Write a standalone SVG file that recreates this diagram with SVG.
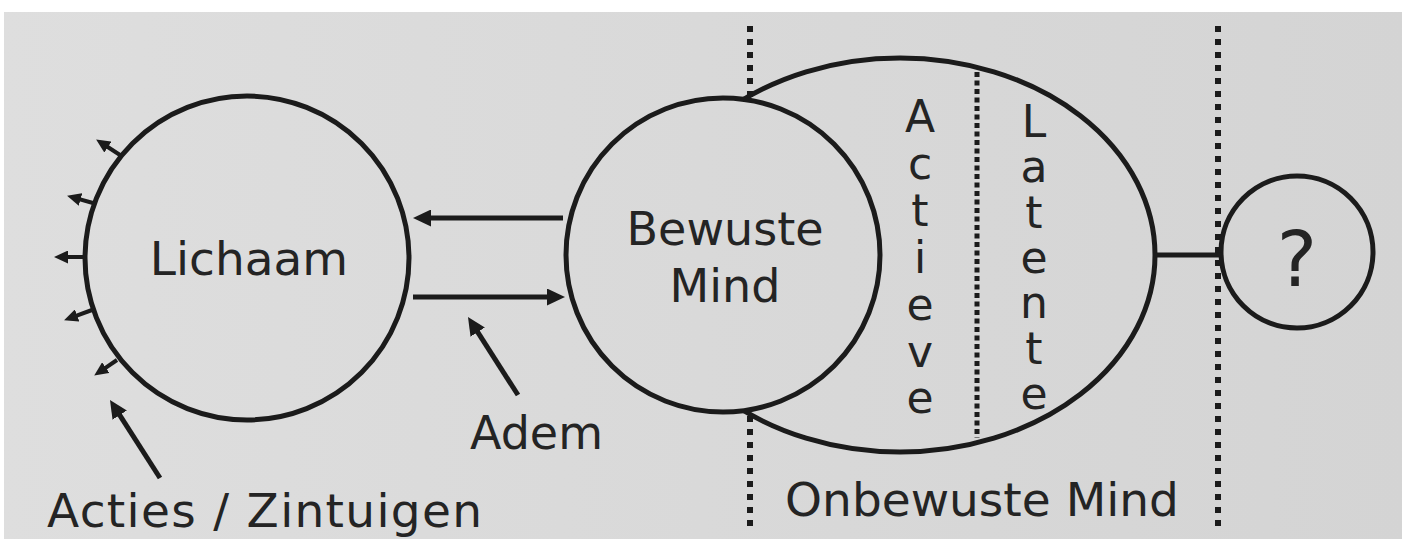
<svg xmlns="http://www.w3.org/2000/svg" width="1406" height="539" viewBox="0 0 1406 539">
<style>
.ln{fill:none;stroke:#1b1b1b;stroke-width:5}
.lf{fill:url(#bg);stroke:#1b1b1b;stroke-width:5}
.ar{fill:none;stroke:#1b1b1b;stroke-width:5}
.sa{fill:none;stroke:#1b1b1b;stroke-width:4}
.dot{fill:none;stroke:#1b1b1b;stroke-width:6;stroke-dasharray:6 7}
.dot2{fill:none;stroke:#1b1b1b;stroke-width:5;stroke-dasharray:5 3.5}
.t{font-family:"DejaVu Sans",Verdana,sans-serif;fill:#242424}
</style>
<defs>
<linearGradient id="bg" gradientUnits="userSpaceOnUse" x1="0" y1="0" x2="1406" y2="0">
<stop offset="0" stop-color="#dedede"/>
<stop offset="1" stop-color="#d4d4d4"/>
</linearGradient>
<marker id="big" markerUnits="userSpaceOnUse" markerWidth="18" markerHeight="17" refX="10" refY="8.5" orient="auto">
<path d="M0,0 L18,8.5 L0,17 z" fill="#1b1b1b"/>
</marker>
<marker id="sm" markerUnits="userSpaceOnUse" markerWidth="14" markerHeight="13" refX="7" refY="6.5" orient="auto">
<path d="M0,0 L14,6.5 L0,13 z" fill="#1b1b1b"/>
</marker>
</defs>
<rect width="1406" height="539" fill="#ffffff"/>
<rect x="4" y="12" width="1398" height="527" fill="url(#bg)"/>

<g id="dividers">
<line class="dot" x1="750" y1="26" x2="750" y2="98"/>
<line class="dot" x1="750" y1="416" x2="750" y2="531"/>
<line class="dot" x1="1218" y1="26" x2="1218" y2="528"/>
</g>

<g id="onbewuste">
<ellipse class="ln" cx="900" cy="255" rx="255" ry="197"/>
<line class="dot2" x1="977" y1="72" x2="977" y2="438"/>
<text class="t" font-size="44" text-anchor="middle"><tspan x="920" y="132">A</tspan><tspan x="920" y="179">c</tspan><tspan x="920" y="226">t</tspan><tspan x="920" y="273">i</tspan><tspan x="920" y="320">e</tspan><tspan x="920" y="367">v</tspan><tspan x="920" y="413">e</tspan></text>
<text class="t" font-size="44" text-anchor="middle"><tspan x="1034" y="137">L</tspan><tspan x="1034" y="182">a</tspan><tspan x="1034" y="228">t</tspan><tspan x="1034" y="273">e</tspan><tspan x="1034" y="318">n</tspan><tspan x="1034" y="364">t</tspan><tspan x="1034" y="409">e</tspan></text>
<text class="t" x="982" y="516" font-size="47" text-anchor="middle">Onbewuste Mind</text>
</g>

<g id="bewuste">
<circle class="lf" cx="723" cy="255" r="157"/>
<text class="t" x="725" y="245" font-size="46" text-anchor="middle">Bewuste</text>
<text class="t" x="725" y="302" font-size="46" text-anchor="middle">Mind</text>
</g>

<g id="lichaam">
<circle class="ln" cx="247" cy="258" r="162"/>
<text class="t" x="249" y="275" font-size="47" text-anchor="middle">Lichaam</text>
</g>

<g id="onbekend">
<circle class="lf" cx="1297" cy="252" r="76"/>
<text class="t" x="1297" y="286" font-size="76" text-anchor="middle">?</text>
</g>

<g id="labels">
<text class="t" x="470" y="449" font-size="46">Adem</text>
<text class="t" x="47" y="527" font-size="47" textLength="435" lengthAdjust="spacing">Acties / Zintuigen</text>
</g>

<g id="connectors">
<line class="ar" x1="563" y1="218" x2="421" y2="218" marker-end="url(#big)"/>
<line class="ar" x1="413" y1="297" x2="557" y2="297" marker-end="url(#big)"/>
<line class="ar" x1="518" y1="395" x2="472.3" y2="323.7" marker-end="url(#big)"/>
<line class="ar" x1="160" y1="478" x2="114.3" y2="406.7" marker-end="url(#big)"/>
<line class="ln" x1="1155" y1="255" x2="1222" y2="255"/>
<line class="sa" x1="120" y1="155" x2="102" y2="143.3" marker-end="url(#sm)"/>
<line class="sa" x1="93" y1="203" x2="73.8" y2="197.6" marker-end="url(#sm)"/>
<line class="sa" x1="84" y1="257" x2="61" y2="257" marker-end="url(#sm)"/>
<line class="sa" x1="92" y1="310" x2="70.6" y2="317.9" marker-end="url(#sm)"/>
<line class="sa" x1="117" y1="360" x2="100" y2="371.6" marker-end="url(#sm)"/>
</g>
</svg>
